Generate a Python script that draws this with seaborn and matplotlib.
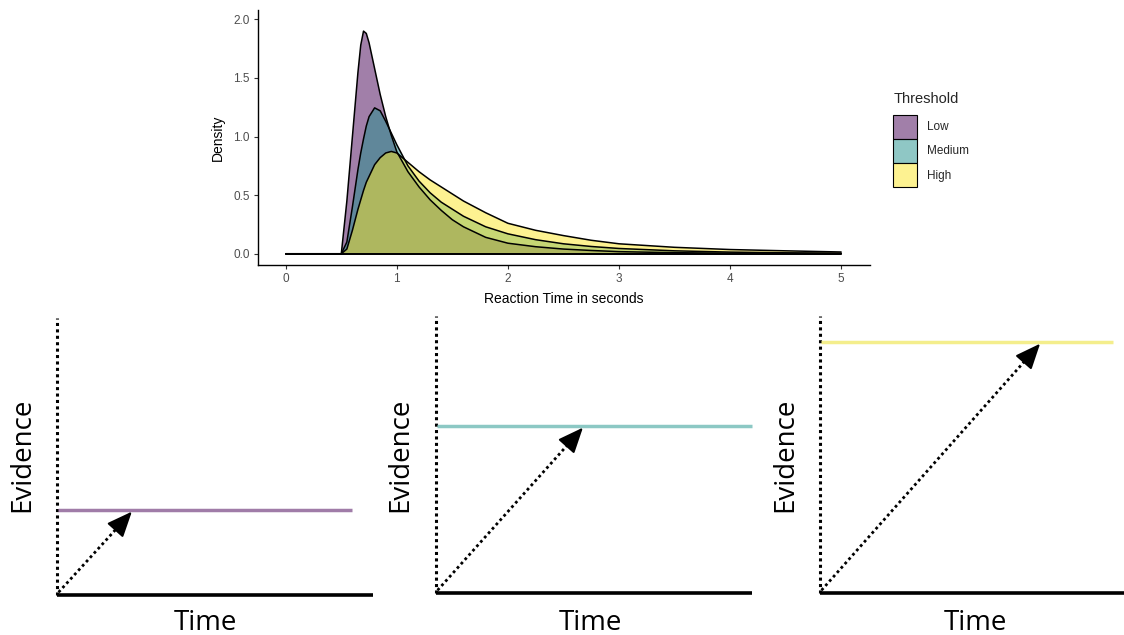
import matplotlib
matplotlib.use("Agg")
import matplotlib.pyplot as plt
import seaborn as sns
import pandas as pd
import numpy as np
from matplotlib.patches import Patch

sns.set_theme(style="white")
plt.rcParams['font.family'] = ['Liberation Sans', 'DejaVu Sans']

# ---------------- data ----------------
rt_seconds = [0, 0.5, 0.55, 0.6, 0.65, 0.675, 0.7, 0.725, 0.75, 0.8, 0.85, 0.9, 0.95, 1.0, 1.1, 1.2,
              1.3, 1.4, 1.5, 1.6, 1.8, 2.0, 2.25, 2.5, 2.75, 3.0, 3.5, 4.0, 4.5, 5.0]
density_low = [0, 0, 0.45, 1.0, 1.55, 1.78, 1.90, 1.88, 1.80, 1.58, 1.36, 1.17, 1.01, 0.87, 0.70, 0.57,
               0.46, 0.37, 0.29, 0.23, 0.14, 0.09, 0.06, 0.04, 0.028, 0.018, 0.009, 0.005, 0.003, 0.002]
density_medium = [0, 0, 0.10, 0.40, 0.72, 0.86, 0.98, 1.09, 1.17, 1.245, 1.22, 1.13, 1.03, 0.93, 0.75, 0.62,
                  0.52, 0.44, 0.38, 0.32, 0.23, 0.17, 0.12, 0.085, 0.062, 0.045, 0.025, 0.014, 0.008, 0.005]
density_high = [0, 0, 0.04, 0.20, 0.38, 0.46, 0.54, 0.61, 0.66, 0.76, 0.82, 0.86, 0.873, 0.86, 0.78, 0.70,
                0.63, 0.57, 0.51, 0.45, 0.35, 0.26, 0.20, 0.155, 0.115, 0.085, 0.055, 0.036, 0.025, 0.015]
thresholds = ["Low", "Medium", "High"]
threshold_colors = ["#440154", "#21908C", "#FDE725"]

# diagram values: threshold height, arrow end (time), line end (time)
diag_threshold = [0.307, 0.603, 0.906]
diag_arrow_end = [0.237, 0.465, 0.724]
diag_line_end = [0.934, 1.0, 0.964]
diag_line_colors = ["#a07ca8", "#8cc8c4", "#f4ee8c"]

df = pd.DataFrame({
    "rt": rt_seconds * 3,
    "density": density_low + density_medium + density_high,
    "Threshold": sum([[t] * len(rt_seconds) for t in thresholds], []),
})

W, H = 1124, 635
fig = plt.figure(figsize=(W / 100, H / 100), dpi=100)

def fr(x0, y0, x1, y1):
    return [x0 / W, 1 - y1 / H, (x1 - x0) / W, (y1 - y0) / H]

# ---------------- top density plot ----------------
ax = fig.add_axes(fr(258, 10, 870, 265))
for t, c in zip(thresholds, threshold_colors):
    sub = df[df.Threshold == t]
    ax.fill_between(sub.rt, sub.density, 0, facecolor=matplotlib.colors.to_rgba(c, 0.5),
                    edgecolor="none", zorder=2)
    sns.lineplot(data=sub, x="rt", y="density", color="black", lw=1.1, ax=ax,
                 estimator=None, sort=False, zorder=3)
    ax.plot([0, 5], [0, 0], color="black", lw=1.1, zorder=3)

ax.set_xlim(-0.25, 5.26)
ax.set_ylim(-0.096, 2.08)
ax.set_xticks([0, 1, 2, 3, 4, 5])
ax.set_yticks([0.0, 0.5, 1.0, 1.5, 2.0])
ax.set_yticklabels(["0.0", "0.5", "1.0", "1.5", "2.0"])
for s in ["top", "right"]:
    ax.spines[s].set_visible(False)
for s in ["left", "bottom"]:
    ax.spines[s].set_color("black")
    ax.spines[s].set_linewidth(1.0)
ax.tick_params(axis="both", which="both", length=3, width=0.8, color="#333333",
               labelsize=8.5, labelcolor="#4d4d4d", left=True, bottom=True, pad=3)
ax.set_xlabel("Reaction Time in seconds", fontsize=10, color="black", labelpad=5)
ax.set_ylabel("Density", fontsize=10, color="black", labelpad=6)
ax.grid(False)

handles = [Patch(facecolor=matplotlib.colors.to_rgba(c, 0.5), edgecolor="black", lw=0.8)
           for c in threshold_colors]
leg = fig.legend(handles, thresholds, title="Threshold", loc="upper left",
                 bbox_to_anchor=(885 / W, 1 - 84 / H), frameon=False, fontsize=8.5,
                 title_fontsize=10.5, handlelength=2.05, handleheight=2.75,
                 labelspacing=0.03, handletextpad=0.8, borderpad=0.2)
leg._legend_box.align = "left"
leg._legend_box.sep = 6

# ---------------- bottom diagrams ----------------
panels = [(57, 318, 373, 595), (436, 316, 752, 593), (820, 316, 1124, 593)]
ev_x = [22, 400, 785]
time_x = [205, 590, 975]
for i, (x0, y0, x1, y1) in enumerate(panels):
    bx = fig.add_axes(fr(x0, y0, x1, y1))
    bx.set_xlim(0, 1)
    bx.set_ylim(0, 1)
    bx.axis("off")
    # dotted vertical axis
    bx.plot([0, 0], [0, 1], color="black", lw=2.2, ls=(0, (1, 1.1)), clip_on=False)
    # baseline
    bx.plot([0, 1], [0, 0], color="black", lw=2.6, clip_on=False, solid_capstyle="butt")
    # threshold line
    bx.plot([0.003, diag_line_end[i]], [diag_threshold[i]] * 2, color=diag_line_colors[i],
            lw=2.5, clip_on=False, solid_capstyle="butt")
    # dotted evidence arrow
    ex, ey = diag_arrow_end[i], diag_threshold[i] - 0.006
    bx.plot([0.005, ex - 0.04 * (ex / np.hypot(ex, ey * 277 / (x1 - x0)))],
            [0.01, ey - 0.04 * (ey / np.hypot(ex, ey * 277 / (x1 - x0)))],
            color="black", lw=2.0, ls=(0, (1, 1.1)), clip_on=False)
    bx.annotate("", xy=(ex, ey), xytext=(ex - 0.06 * ex / np.hypot(ex, ey),
                                          ey - 0.06 * ey / np.hypot(ex, ey)),
                arrowprops=dict(arrowstyle="-|>,head_length=1.3,head_width=0.55",
                                color="black", lw=1.5, shrinkA=0, shrinkB=0),
                annotation_clip=False)
    fig.text(ev_x[i] / W, 1 - 455 / H, "Evidence", rotation=90, ha="center", va="center",
             fontsize=20, family=["Open Sans", "DejaVu Sans"], color="black")
    fig.text(time_x[i] / W, 1 - 623 / H, "Time", ha="center", va="center",
             fontsize=20, family=["Open Sans", "DejaVu Sans"], color="black")

fig.savefig("out.png", dpi=100)
